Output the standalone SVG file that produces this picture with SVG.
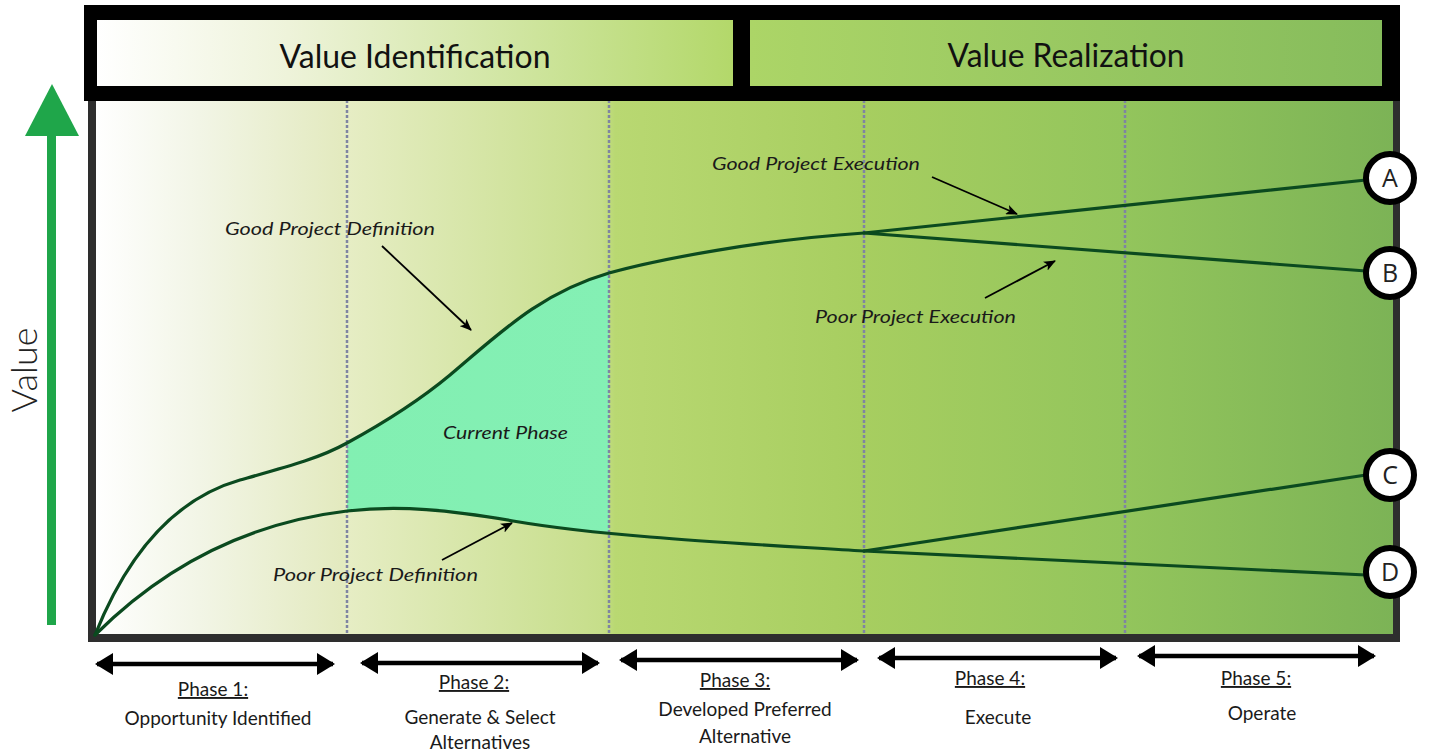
<svg xmlns="http://www.w3.org/2000/svg" width="1432" height="752" viewBox="0 0 1432 752">
<defs>
<linearGradient id="chartGrad" x1="95" y1="0" x2="1395" y2="0" gradientUnits="userSpaceOnUse">
<stop offset="0" stop-color="#ffffff"/>
<stop offset="0.08" stop-color="#f2f5e6"/>
<stop offset="0.19" stop-color="#e3eabf"/>
<stop offset="0.195" stop-color="#e6edc4"/>
<stop offset="0.39" stop-color="#c6de8a"/>
<stop offset="0.4" stop-color="#b9d872"/>
<stop offset="0.59" stop-color="#a7ce60"/>
<stop offset="0.79" stop-color="#93c55c"/>
<stop offset="1" stop-color="#7cb356"/>
</linearGradient>
<linearGradient id="viGrad" x1="0" y1="0" x2="1" y2="0">
<stop offset="0" stop-color="#ffffff"/>
<stop offset="0.3" stop-color="#eef3da"/>
<stop offset="1" stop-color="#b3d86a"/>
</linearGradient>
<linearGradient id="vrGrad" x1="0" y1="0" x2="1" y2="0">
<stop offset="0" stop-color="#acd567"/>
<stop offset="1" stop-color="#86bc5c"/>
</linearGradient>
<linearGradient id="mintGrad" x1="0" y1="0" x2="1" y2="0">
<stop offset="0" stop-color="#80efb0"/>
<stop offset="1" stop-color="#86f0b6"/>
</linearGradient>
<clipPath id="phase2Clip"><rect x="347" y="100" width="262" height="540"/></clipPath>
<marker id="ah" markerWidth="12" markerHeight="10" refX="11" refY="5" orient="auto" markerUnits="userSpaceOnUse">
<path d="M0,0 L12,5 L0,10 L3,5 Z" fill="#000"/>
</marker>
<marker id="ph" markerWidth="18" markerHeight="22" refX="16" refY="11" orient="auto-start-reverse" markerUnits="userSpaceOnUse">
<path d="M0,0 L18,11 L0,22 Z" fill="#000"/>
</marker>
<style>
.hdr{font-family:Lato,"Open Sans","Liberation Sans",sans-serif;font-size:32px;fill:#111;text-anchor:middle}
.ann{font-family:Lato,"Open Sans","Liberation Sans",sans-serif;font-size:18px;font-style:italic;fill:#1a1a1a}
.ph{font-family:Lato,"Open Sans","Liberation Sans",sans-serif;font-size:19px;fill:#1a1a1a;text-anchor:middle}
.curve{fill:none;stroke:#0b4a1f;stroke-width:3.2;stroke-linecap:round}
.dot{stroke:#7f84a2;stroke-width:2.5;stroke-dasharray:3 2}
.annArrow{stroke:#000;stroke-width:1.8;fill:none;marker-end:url(#ah)}
.phArrow{stroke:#000;stroke-width:4.5;marker-start:url(#ph);marker-end:url(#ph)}
.circ{fill:#fff;stroke:#000;stroke-width:6}
.lbl{font-family:"Open Sans",Lato,"Liberation Sans",sans-serif;font-size:25px;fill:#222;text-anchor:middle}
</style>
</defs>

<rect width="1432" height="752" fill="#ffffff"/>

<g id="y-axis">
<rect x="47" y="125" width="9" height="500" fill="#1fa64a"/>
<polygon points="52,84 79,136 25,136" fill="#1fa64a"/>
<text x="37" y="370" transform="rotate(-90 37 370)" font-family="Lato,'Open Sans','Liberation Sans',sans-serif" font-size="36" font-weight="300" fill="#222" text-anchor="middle">Value</text>
</g>

<g id="chart-area">
<rect x="95" y="100" width="1300" height="536" fill="url(#chartGrad)"/>
<path clip-path="url(#phase2Clip)" fill="url(#mintGrad)" d="M95,635 C125,560 170,500 240,480 C290,466 320,458 347,443 C380,425 420,400 450,375 C500,333 540,293 609,273 C660,259 760,240 864,233 L864,551 C800,547 720,543 650,537 C600,533 560,529 513,521 C450,510 400,505 347,511 C230,525 150,580 95,635 Z"/>
<line class="dot" x1="347" y1="100" x2="347" y2="636"/>
<line class="dot" x1="609" y1="100" x2="609" y2="636"/>
<line class="dot" x1="864" y1="100" x2="864" y2="636"/>
<line class="dot" x1="1125" y1="100" x2="1125" y2="636"/>
<rect x="88" y="100" width="8" height="542" fill="#2e2e2e"/>
<rect x="88" y="634" width="1312" height="8" fill="#2e2e2e"/>
<rect x="1393" y="100" width="7" height="542" fill="#2e2e2e"/>
</g>

<g id="header">
<rect x="84" y="5" width="1316" height="96" fill="#000"/>
<g id="value-identification">
<rect x="97" y="20" width="636" height="66" fill="url(#viGrad)"/>
<text class="hdr" x="415" y="68" textLength="271" lengthAdjust="spacingAndGlyphs">Value Identification</text>
</g>
<g id="value-realization">
<rect x="750" y="20" width="632" height="66" fill="url(#vrGrad)"/>
<text class="hdr" x="1066" y="67" textLength="237" lengthAdjust="spacingAndGlyphs">Value Realization</text>
</g>
</g>

<g id="connectors">
<path id="good-definition-curve" class="curve" d="M95,635 C125,560 170,500 240,480 C290,466 320,458 347,443 C380,425 420,400 450,375 C500,333 540,293 609,273 C660,259 760,240 864,233"/>
<path id="poor-definition-curve" class="curve" d="M95,635 C150,580 230,525 347,511 C400,505 450,510 513,521 C560,529 600,533 650,537 C720,543 800,547 864,551"/>
<line class="curve" x1="864" y1="233" x2="1366" y2="180"/>
<line class="curve" x1="864" y1="233" x2="1366" y2="271"/>
<line class="curve" x1="864" y1="551" x2="1366" y2="475"/>
<line class="curve" x1="864" y1="551" x2="1366" y2="575"/>
<line class="annArrow" x1="382" y1="246" x2="471" y2="330"/>
<line class="annArrow" x1="442" y1="560" x2="512" y2="523"/>
<line class="annArrow" x1="932" y1="177" x2="1017" y2="214"/>
<line class="annArrow" x1="985" y1="298" x2="1055" y2="261"/>
</g>

<g id="annotations">
<text class="ann" x="225" y="235" textLength="210" lengthAdjust="spacingAndGlyphs">Good Project Definition</text>
<text class="ann" x="443" y="439" textLength="125" lengthAdjust="spacingAndGlyphs">Current Phase</text>
<text class="ann" x="273" y="581" textLength="205" lengthAdjust="spacingAndGlyphs">Poor Project Definition</text>
<text class="ann" x="712" y="170" textLength="208" lengthAdjust="spacingAndGlyphs">Good Project Execution</text>
<text class="ann" x="815" y="323" textLength="201" lengthAdjust="spacingAndGlyphs">Poor Project Execution</text>
</g>

<g id="outcome-A"><circle class="circ" cx="1390" cy="178" r="24"/><text class="lbl" x="1390" y="187">A</text></g>
<g id="outcome-B"><circle class="circ" cx="1390" cy="273" r="24"/><text class="lbl" x="1390" y="282">B</text></g>
<g id="outcome-C"><circle class="circ" cx="1390" cy="475" r="24"/><text class="lbl" x="1390" y="484">C</text></g>
<g id="outcome-D"><circle class="circ" cx="1390" cy="572" r="24"/><text class="lbl" x="1390" y="581">D</text></g>

<g id="phase-1">
<line class="phArrow" x1="97" y1="664" x2="333" y2="664"/>
<text class="ph" x="213" y="696" text-decoration="underline">Phase 1:</text>
<text class="ph" x="218" y="725">Opportunity Identified</text>
</g>
<g id="phase-2">
<line class="phArrow" x1="362" y1="663" x2="598" y2="663"/>
<text class="ph" x="474" y="689" text-decoration="underline">Phase 2:</text>
<text class="ph" x="480" y="724">Generate &amp; Select</text>
<text class="ph" x="480" y="749">Alternatives</text>
</g>
<g id="phase-3">
<line class="phArrow" x1="621" y1="660" x2="857" y2="660"/>
<text class="ph" x="735" y="687" text-decoration="underline">Phase 3:</text>
<text class="ph" x="745" y="716">Developed Preferred</text>
<text class="ph" x="745" y="743">Alternative</text>
</g>
<g id="phase-4">
<line class="phArrow" x1="879" y1="658" x2="1116" y2="658"/>
<text class="ph" x="990" y="685" text-decoration="underline">Phase 4:</text>
<text class="ph" x="998" y="724">Execute</text>
</g>
<g id="phase-5">
<line class="phArrow" x1="1139" y1="656" x2="1374" y2="656"/>
<text class="ph" x="1256" y="685" text-decoration="underline">Phase 5:</text>
<text class="ph" x="1262" y="720">Operate</text>
</g>
</svg>
